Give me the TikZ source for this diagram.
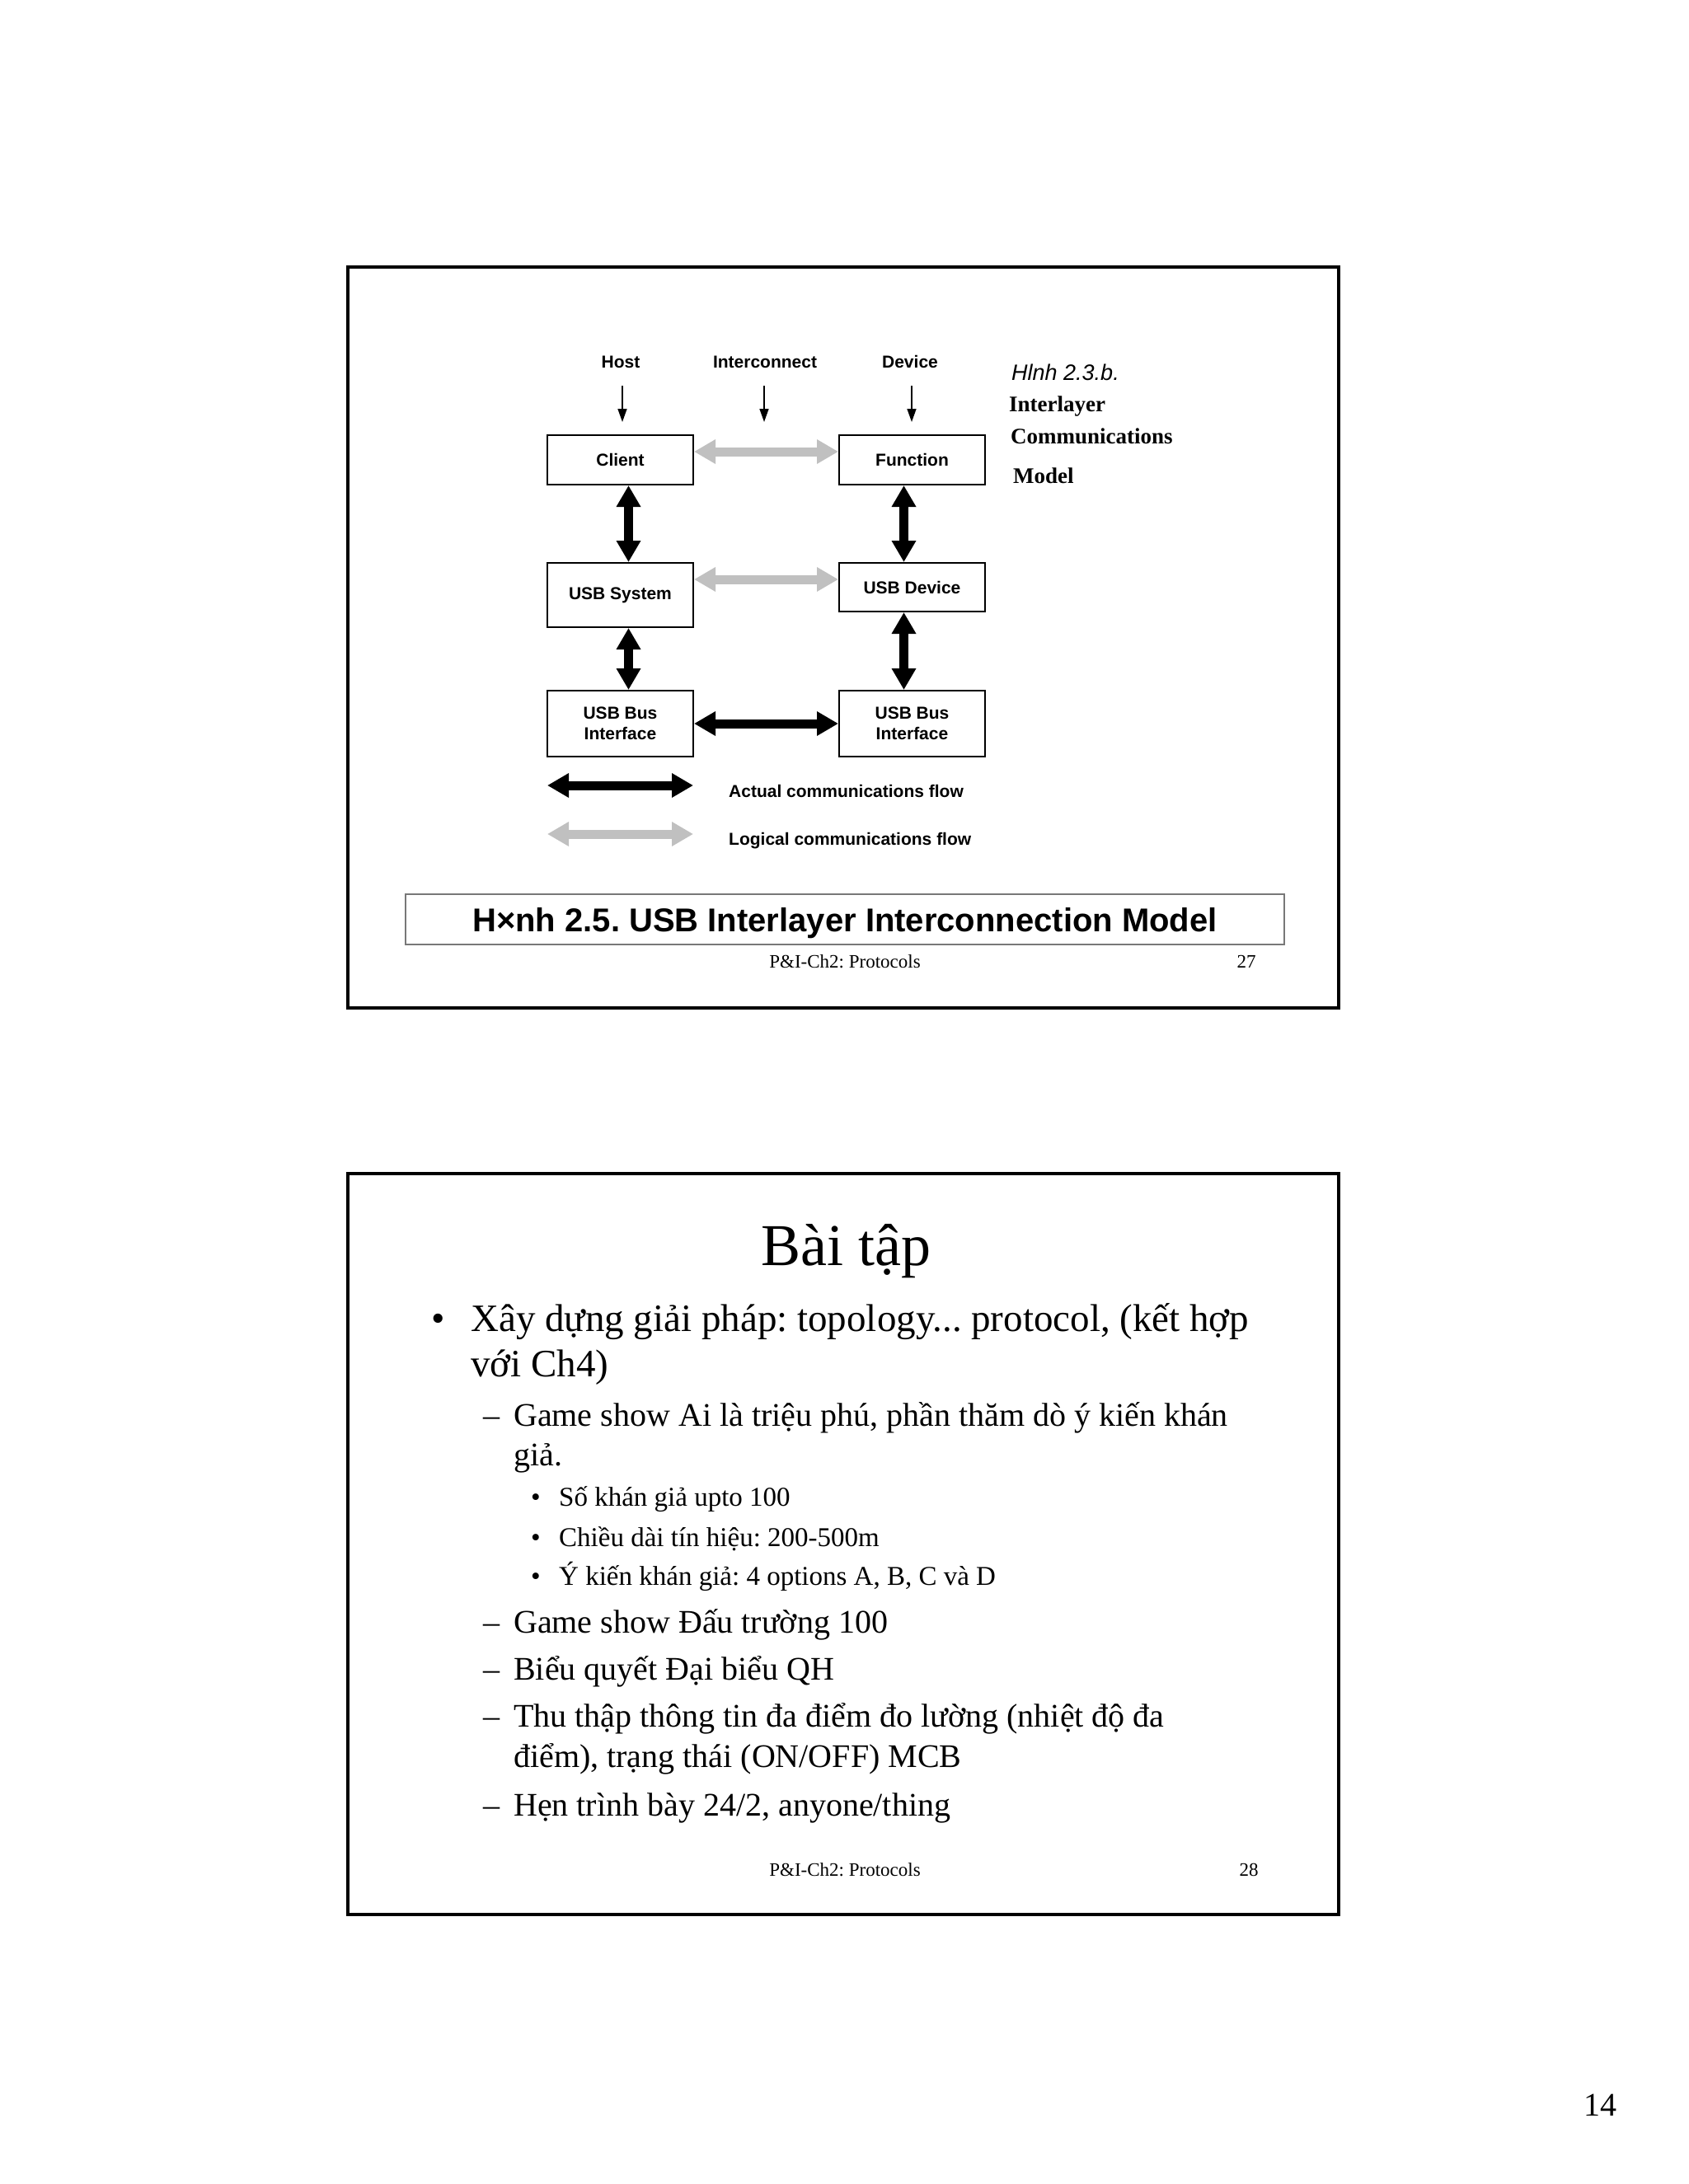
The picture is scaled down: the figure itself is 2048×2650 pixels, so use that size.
\documentclass[tikz,border=0pt]{standalone}
\usepackage{fontspec}
\setmainfont{Liberation Serif}
\newfontfamily\arialf{Liberation Sans}
\usetikzlibrary{arrows.meta}
\definecolor{lgray}{RGB}{192,192,192}
\definecolor{capgray}{RGB}{120,120,120}
\frenchspacing
\begin{document}
\begin{tikzpicture}[x=1pt,y=-1pt,
  slideframe/.style={draw=black,line width=3.5pt},
  box/.style={draw=black,line width=2pt,minimum width=177pt,inner sep=0pt,align=center,
    font=\arialf\bfseries\fontsize{21}{25}\selectfont},
  lab/.style={inner sep=0pt,anchor=base,font=\arialf\bfseries\fontsize{21}{25}\selectfont},
  labw/.style={inner sep=0pt,anchor=base west,font=\arialf\bfseries\fontsize{21}{25}\selectfont},
  fatarrow/.style={line width=11pt,{Triangle[length=26pt,width=28pt]}-{Triangle[length=26pt,width=28pt]}},
  actual/.style={fatarrow,draw=black},
  logical/.style={fatarrow,draw=lgray},
  downarrow/.style={line width=1.5pt,-{Triangle[length=16pt,width=11pt]}},
  sidetxt/.style={inner sep=0pt,anchor=base west,font=\bfseries\fontsize{27}{32}\selectfont},
  txtA/.style={inner sep=0pt,anchor=base west,font=\fontsize{47}{56}\selectfont},
  txtB/.style={inner sep=0pt,anchor=base west,font=\fontsize{40}{48}\selectfont},
  txtC/.style={inner sep=0pt,anchor=base west,font=\fontsize{33}{40}\selectfont},
  foot/.style={inner sep=0pt,anchor=base,font=\fontsize{23}{28}\selectfont}
]
\useasboundingbox[fill=white] (0,0) rectangle (2048,2650);

% ---------- slide 27 ----------
\draw[slideframe] (422,324) rectangle (1624,1223);

\node[lab] (host) at (753,446) {Host};
\node[lab] (inter) at (928,446) {Interconnect};
\node[lab] (dev) at (1104,446) {Device};

\draw[downarrow] (755,468) coordinate (h1) -- (755,512) coordinate (h2);
\draw[downarrow] (927,468) coordinate (i1) -- (927,512) coordinate (i2);
\draw[downarrow] (1106,468) coordinate (d1) -- (1106,512) coordinate (d2);

\node[box,minimum height=60pt] (client) at (752.5,558) {Client};
\node[box,minimum height=60pt] (func) at (1106.5,558) {Function};
\node[box,minimum height=78pt] (usbsys) at (752.5,722) {USB System};
\node[box,minimum height=59pt] (usbdev) at (1106.5,712.5) {USB Device};
\node[box,minimum height=80pt] (busl) at (752.5,878) {USB Bus\\Interface};
\node[box,minimum height=80pt] (busr) at (1106.5,878) {USB Bus\\Interface};

\draw[actual] ([xshift=10pt]client.south) -- ([xshift=10pt]usbsys.north);
\draw[actual] ([xshift=10pt]usbsys.south) -- ([xshift=10pt]busl.north);
\draw[actual] ([xshift=-10pt]func.south) -- ([xshift=-10pt]usbdev.north);
\draw[actual] ([xshift=-10pt]usbdev.south) -- ([xshift=-10pt]busr.north);
\draw[logical] ([yshift=10pt]client.east) -- ([yshift=10pt]func.west);
\draw[logical] (usbsys.east |- 0,703) -- (usbdev.west |- 0,703);
\draw[actual] (busl.east) -- (busr.west);

\coordinate (la1) at (664,953);
\coordinate (la2) at (841,953);
\coordinate (lb1) at (664,1012);
\coordinate (lb2) at (841,1012);
\draw[actual] (la1) -- (la2);
\draw[logical] (lb1) -- (lb2);
\node[labw] (actlab) at (884,967) {Actual communications flow};
\node[labw] (loglab) at (884,1025) {Logical communications flow};

\node[inner sep=0pt,anchor=base west,font=\arialf\itshape\fontsize{27}{32}\selectfont] (hinh) at (1227,461) {Hlnh 2.3.b.};
\node[sidetxt] (s1) at (1224,499) {Interlayer};
\node[sidetxt] (s2) at (1226,538) {Communications};
\node[sidetxt] (s3) at (1229,586) {Model};

\node[draw=capgray,line width=1.5pt,minimum width=1066pt,minimum height=61pt,inner sep=0pt] (capbox) at (1025,1115.5) {};
\node[inner sep=0pt,anchor=base,font=\arialf\bfseries\fontsize{40}{48}\selectfont] (captxt) at (1025,1130) {H×nh 2.5. USB Interlayer Interconnection Model};

\node[foot] (f1) at (1025,1174) {P\&I-Ch2: Protocols};
\node[foot] (n1) at (1512,1174) {27};

% ---------- slide 28 ----------
\draw[slideframe] (422,1424) rectangle (1624,2323);

\node[inner sep=0pt,anchor=base,font=\fontsize{72}{86}\selectfont] (title) at (1026,1535) {Bài tập};

\node[txtA] (b1) at (523,1615) {•};
\node[txtA] (t1) at (571,1615) {Xây dựng giải pháp: topology... protocol, (kết hợp};
\node[txtA] (t1b) at (571,1670) {với Ch4)};

\node[txtB] (d1) at (586,1730) {–};
\node[txtB] (t2) at (623,1730) {Game show Ai là triệu phú, phần thăm dò ý kiến khán};
\node[txtB] (t2b) at (623,1778) {giả.};

\node[txtC] (c1) at (644,1827) {•};
\node[txtC] (u1) at (678,1827) {Số khán giả upto 100};
\node[txtC] (c2) at (644,1876) {•};
\node[txtC] (u2) at (678,1876) {Chiều dài tín hiệu: 200-500m};
\node[txtC] (c3) at (644,1923) {•};
\node[txtC] (u3) at (678,1923) {Ý kiến khán giả: 4 options A, B, C và D};

\node[txtB] (d2) at (586,1981) {–};
\node[txtB] (t3) at (623,1981) {Game show Đấu trường 100};
\node[txtB] (d3) at (586,2038) {–};
\node[txtB] (t4) at (623,2038) {Biểu quyết Đại biểu QH};
\node[txtB] (d4) at (586,2095) {–};
\node[txtB] (t5) at (623,2095) {Thu thập thông tin đa điểm đo lường (nhiệt độ đa};
\node[txtB] (t5b) at (623,2144) {điểm), trạng thái (ON/OFF) MCB};
\node[txtB] (d5) at (586,2203) {–};
\node[txtB] (t6) at (623,2203) {Hẹn trình bày 24/2, anyone/thing};

\node[foot] (f2) at (1025,2276) {P\&I-Ch2: Protocols};
\node[foot] (n2) at (1515,2276) {28};

\node[inner sep=0pt,anchor=base,font=\fontsize{40}{48}\selectfont] (pg) at (1941,2567) {14};
\end{tikzpicture}
\end{document}
